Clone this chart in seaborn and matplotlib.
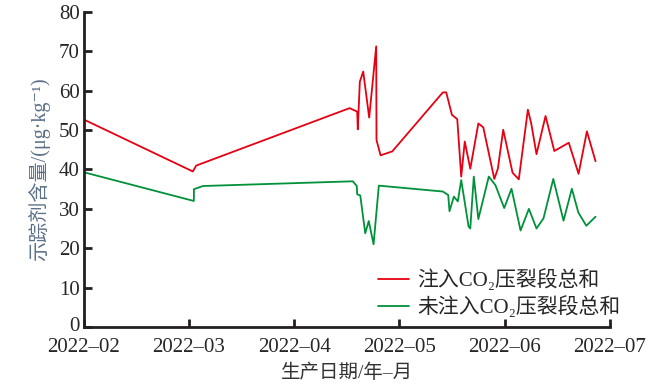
import seaborn as sns
import pandas as pd
import matplotlib.pyplot as plt
from matplotlib.transforms import ScaledTranslation

# tracer content
red_dates = ["2022-02-01 00:00", "2022-03-02 03:00", "2022-03-03 03:00", "2022-04-16 19:00",
             "2022-04-18 23:00", "2022-04-19 03:00", "2022-04-19 17:00", "2022-04-20 16:00",
             "2022-04-22 09:00", "2022-04-24 09:00", "2022-04-24 11:00", "2022-04-25 15:00",
             "2022-04-28 23:00", "2022-05-13 19:00", "2022-05-14 19:00", "2022-05-16 11:00",
             "2022-05-18 01:00", "2022-05-19 05:00", "2022-05-20 06:00", "2022-05-21 21:00",
             "2022-05-24 06:00", "2022-05-25 17:00", "2022-05-28 23:00", "2022-05-30 00:00",
             "2022-05-31 14:00", "2022-06-03 06:00", "2022-06-05 01:00", "2022-06-07 15:00",
             "2022-06-08 14:00", "2022-06-10 02:00", "2022-06-12 16:00", "2022-06-15 04:00",
             "2022-06-19 07:00", "2022-06-22 02:00", "2022-06-24 11:00", "2022-06-26 22:00"]
red_values = [52.7, 39.5, 41.0, 55.6, 54.7, 50.2, 62.3, 64.9, 53.2, 71.3, 47.5, 43.6,
              44.6, 59.6, 59.6, 53.9, 52.8, 38.2, 47.1, 40.2, 51.7, 50.7, 37.6, 40.2,
              50.1, 39.2, 37.5, 55.2, 51.7, 43.9, 53.6, 44.7, 46.8, 38.9, 49.7, 42.1]

green_dates = ["2022-02-01 00:00", "2022-03-02 10:00", "2022-03-02 11:00", "2022-03-05 02:00",
               "2022-04-17 17:00", "2022-04-18 20:00", "2022-04-18 23:00", "2022-04-19 20:00",
               "2022-04-21 06:00", "2022-04-22 06:00", "2022-04-23 15:00", "2022-04-25 03:00",
               "2022-05-13 19:00", "2022-05-15 09:00", "2022-05-15 18:00", "2022-05-17 01:00",
               "2022-05-18 05:00", "2022-05-19 05:00", "2022-05-21 09:00", "2022-05-21 21:00",
               "2022-05-22 22:00", "2022-05-24 06:00", "2022-05-27 08:00", "2022-05-29 07:00",
               "2022-05-31 21:00", "2022-06-02 23:00", "2022-06-05 13:00", "2022-06-07 22:00",
               "2022-06-10 02:00", "2022-06-12 02:00", "2022-06-14 21:00", "2022-06-17 19:00",
               "2022-06-20 04:00", "2022-06-22 00:00", "2022-06-24 07:00", "2022-06-26 22:00"]
green_values = [39.3, 32.0, 35.0, 35.8, 37.0, 35.8, 33.7, 33.4, 23.8, 26.9, 21.0, 35.9,
                34.4, 33.5, 29.4, 33.1, 31.9, 37.3, 25.5, 25.0, 38.2, 27.4, 38.2, 36.0,
                30.2, 35.1, 24.5, 30.0, 25.0, 27.6, 37.6, 27.0, 35.1, 29.1, 25.7, 28.0]

month_labels = ["2022–02", "2022–03", "2022–04", "2022–05", "2022–06", "2022–07"]
series_names = ["注入CO₂压裂段总和", "未注入CO₂压裂段总和"]
colors = ["#e60012", "#00913a"]


def month_pos(dates):
    # the original axis gives every month the same width
    d = pd.to_datetime(pd.Series(dates))
    return (d.dt.month - 2) + (d.dt.day - 1 + d.dt.hour / 24) / d.dt.days_in_month


df = pd.concat([
    pd.DataFrame({"pos": month_pos(red_dates), "value": red_values, "series": series_names[0]}),
    pd.DataFrame({"pos": month_pos(green_dates), "value": green_values, "series": series_names[1]}),
], ignore_index=True)

sns.set_style("ticks")
plt.rcParams["font.family"] = ["Liberation Serif", "Noto Sans CJK SC", "DejaVu Serif"]

fig = plt.figure(figsize=(6.6, 3.91), dpi=100)
ax = fig.add_axes([0.127, 0.164, 0.797, 0.805])

sns.lineplot(data=df, x="pos", y="value", hue="series", palette=colors, sort=False,
             estimator=None, linewidth=1.3, ax=ax)

ax.set_xlim(0, 5)
ax.set_ylim(0, 80)
ax.set_xticks(range(len(month_labels)))
ax.set_xticklabels(month_labels)
ax.set_yticks(range(0, 81, 10))

for side in ["top", "right"]:
    ax.spines[side].set_visible(False)
for side in ["left", "bottom"]:
    ax.spines[side].set_linewidth(2)
    ax.spines[side].set_color("#231f20")
ax.tick_params(direction="in", length=6, width=2, color="#231f20", labelsize=15)
ax.tick_params(axis="y", pad=3)
ax.tick_params(axis="x", pad=8)

# lift the "0" a little so it clears the first date label
zero = ax.get_yticklabels()[0]
zero.set_transform(zero.get_transform() + ScaledTranslation(0, 2 / 72, fig.dpi_scale_trans))

ax.set_ylabel("示踪剂含量/(μg·kg⁻¹)", fontsize=14.5, color="#5b7089", labelpad=6)
ax.set_xlabel("生产日期/年–月", fontsize=14, color="#333333", labelpad=5)

handles, labels = ax.get_legend_handles_labels()
ax.legend(handles, labels, loc="upper left", bbox_to_anchor=(0.572, 0.312),
          bbox_transform=fig.transFigure, frameon=False, fontsize=15,
          handlelength=1.5, handletextpad=0.4, labelspacing=0.25,
          borderpad=0, borderaxespad=0)

fig.savefig("out.png", dpi=100)
